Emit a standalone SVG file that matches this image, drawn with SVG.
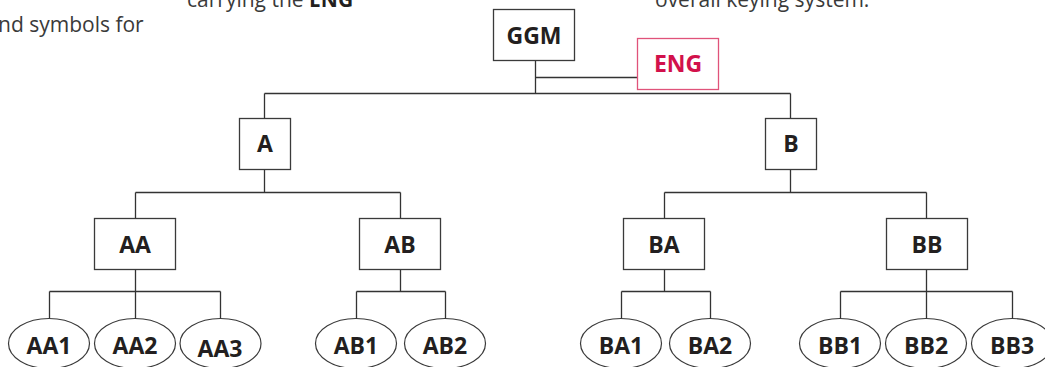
<svg xmlns="http://www.w3.org/2000/svg" width="1045" height="367" viewBox="0 0 1045 367">
<style>
.bx{fill:#fff;stroke:#3a3a3a;stroke-width:1.3}
.el{fill:#fff;stroke:#3a3a3a;stroke-width:1.2}
.eng{fill:#fff;stroke:#e0537a;stroke-width:1.3}
.lbl{font-family:"Open Sans","Noto Sans",sans-serif;font-weight:bold;font-size:23px;fill:#231f20;text-anchor:middle}
.engt{fill:#d2114b}
.cap{font-family:"Open Sans","Noto Sans",sans-serif;font-size:21px;fill:#3a3a3a}
.ln{fill:none;stroke:#333;stroke-width:1.3}
</style>
<g id="captions">
<text class="cap" x="-2" y="32">nd symbols for</text>
<text class="cap" x="187" y="7">carrying the <tspan font-weight="bold" fill="#231f20">ENG</tspan></text>
<text class="cap" x="655" y="7">overall keying system.</text>
</g>
<g id="connectors">
<path class="ln" d="M535.5 60.5V93.5M535.5 77.5H637.5M264.5 93.5H790.5M264.5 93.5V118.5M790.5 93.5V118.5"/>
<path class="ln" d="M264.5 169.5V192.5M135.5 192.5H400.5M135.5 192.5V218.5M400.5 192.5V218.5"/>
<path class="ln" d="M790.5 169.5V192.5M664.5 192.5H926.5M664.5 192.5V218.5M926.5 192.5V218.5"/>
<path class="ln" d="M135.5 269.5V291.5M49.5 291.5H220.5M49.5 291.5V318.5M135.5 291.5V318.5M220.5 291.5V318.5"/>
<path class="ln" d="M400.5 269.5V291.5M356.5 291.5H445.5M356.5 291.5V318.5M445.5 291.5V318.5"/>
<path class="ln" d="M664.5 269.5V291.5M621.5 291.5H710.5M621.5 291.5V318.5M710.5 291.5V318.5"/>
<path class="ln" d="M926.5 269.5V291.5M840.5 291.5H1012.5M840.5 291.5V318.5M926.5 291.5V318.5M1012.5 291.5V318.5"/>
</g>
<g id="GGM"><rect class="bx" x="493.5" y="9.5" width="81" height="51"/><text class="lbl" x="534" y="44">GGM</text></g>
<g id="ENG"><rect class="eng" x="637.5" y="38.5" width="81" height="51"/><text class="lbl engt" x="678" y="72">ENG</text></g>
<g id="A"><rect class="bx" x="239.5" y="118.5" width="51" height="51"/><text class="lbl" x="265" y="152">A</text></g>
<g id="B"><rect class="bx" x="765.5" y="118.5" width="51" height="51"/><text class="lbl" x="791" y="152">B</text></g>
<g id="AA"><rect class="bx" x="94.5" y="218.5" width="81" height="51"/><text class="lbl" x="135" y="253">AA</text></g>
<g id="AB"><rect class="bx" x="359.5" y="218.5" width="81" height="51"/><text class="lbl" x="400" y="253">AB</text></g>
<g id="BA"><rect class="bx" x="623.5" y="218.5" width="81" height="51"/><text class="lbl" x="664" y="253">BA</text></g>
<g id="BB"><rect class="bx" x="886.5" y="218.5" width="81" height="51"/><text class="lbl" x="927" y="253">BB</text></g>
<g id="AA1"><ellipse class="el" cx="49" cy="343.5" rx="40.5" ry="25"/><text class="lbl" x="49" y="354">AA1</text></g>
<g id="AA2"><ellipse class="el" cx="135" cy="343.5" rx="40.5" ry="25"/><text class="lbl" x="135" y="354">AA2</text></g>
<g id="AA3"><ellipse class="el" cx="220.5" cy="343.5" rx="40.5" ry="25"/><text class="lbl" x="220" y="357">AA3</text></g>
<g id="AB1"><ellipse class="el" cx="356" cy="343.5" rx="40.5" ry="25"/><text class="lbl" x="356" y="354">AB1</text></g>
<g id="AB2"><ellipse class="el" cx="445" cy="343.5" rx="40.5" ry="25"/><text class="lbl" x="445" y="354">AB2</text></g>
<g id="BA1"><ellipse class="el" cx="621" cy="343.5" rx="40.5" ry="25"/><text class="lbl" x="621" y="354">BA1</text></g>
<g id="BA2"><ellipse class="el" cx="710" cy="343.5" rx="40.5" ry="25"/><text class="lbl" x="710" y="354">BA2</text></g>
<g id="BB1"><ellipse class="el" cx="840" cy="343.5" rx="40.5" ry="25"/><text class="lbl" x="840" y="354">BB1</text></g>
<g id="BB2"><ellipse class="el" cx="926" cy="343.5" rx="40.5" ry="25"/><text class="lbl" x="926" y="354">BB2</text></g>
<g id="BB3"><ellipse class="el" cx="1012" cy="343.5" rx="40.5" ry="25"/><text class="lbl" x="1012" y="354">BB3</text></g>
</svg>
